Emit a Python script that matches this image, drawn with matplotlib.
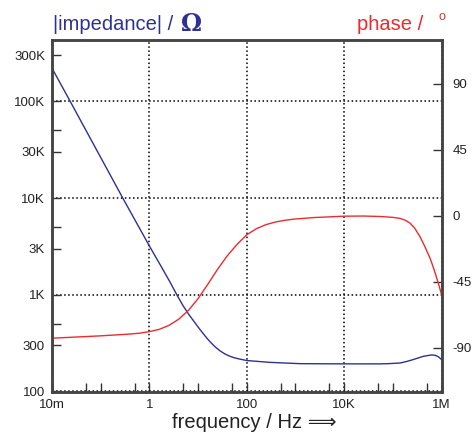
import matplotlib
matplotlib.use("Agg")
import matplotlib.pyplot as plt

plt.rcParams['font.family'] = ['Liberation Sans', 'DejaVu Sans']
plt.rcParams['axes.unicode_minus'] = False

# impedance magnitude
imp_freq = [0.01, 0.0236, 0.284, 1.03, 1.66, 2.66, 3.66, 4.8, 6.32, 11.0, 15.1,
            17.6, 22.3, 28.3, 35.8, 45.4, 57.5, 72.8, 100, 301, 1240, 10400,
            54600, 80000, 141000, 190000, 264000, 423000, 629000, 750000,
            860000, 1.0e6]
imp_ohm = [220000, 100000, 10000, 3110, 2050, 1350, 1000, 787, 635, 436, 357,
           327, 290, 263, 244, 231, 222, 216, 209, 200, 194, 193, 193, 194,
           197, 204, 214, 231, 239, 236, 229, 214]

# phase
ph_freq = [0.01, 0.0316, 0.1, 0.316, 0.631, 1, 1.585, 2.512, 3.981, 6.31, 10,
           15.85, 25.12, 39.81, 63.1, 100, 158.5, 251.2, 398.1, 631, 1000,
           2512, 10000, 25100, 54600, 100000, 141000, 178000, 225000, 282000,
           362000, 447000, 581000, 708000, 797000, 891000, 1.0e6]
ph_deg = [-83.6, -82.8, -82.0, -81.0, -80.2, -79.1, -77.6, -74.9, -70.7, -64.7,
          -56.6, -46.8, -36.6, -27.3, -19.6, -13.0, -8.8, -6.0, -4.2, -3.0,
          -2.2, -1.2, -0.3, -0.2, -0.5, -1.1, -1.8, -3.0, -5.0, -8.5, -14.3,
          -20.5, -28.9, -37.0, -42.5, -47.8, -53.8]

x_major = [0.01, 1, 100, 1e4, 1e6]
x_labels = ['10m', '1', '100', '10K', '1M']
x_minor = [0.05, 0.1, 0.5, 5, 10, 50, 500, 1000, 5000, 5e4, 1e5, 5e5]
y_major = [100, 1000, 1e4, 1e5]
y_major_labels = ['100', '1K', '10K', '100K']
y_minor = [300, 500, 3000, 5000, 3e4, 5e4, 3e5]
y_minor_labels = ['300', '', '3K', '', '30K', '', '300K']
ph_ticks = [-90, -45, 0, 45, 90]
ph_labels = ['-90', '-45', '0', '45', '90']

blue = '#2e3192'
red = '#ee2a2e'
dark = '#333333'

fig = plt.figure(figsize=(4.73, 4.33), dpi=100)
ax = fig.add_axes([52 / 473, 1 - 391.5 / 433, 389.5 / 473, 351.5 / 433])
ax2 = ax.twinx()

ax.plot(imp_freq, imp_ohm, color=blue, lw=1.0)
ax2.plot(ph_freq, ph_deg, color=red, lw=1.0)

ax.set_xscale('log')
ax.set_yscale('log')
ax.set_xlim(0.01, 1e6)
ax.set_ylim(100, 4.3e5)
ax2.set_ylim(-120, 120)

ax.set_xticks(x_major, x_labels)
ax.set_xticks(x_minor, [''] * len(x_minor), minor=True)
ax.set_yticks(y_major, y_major_labels)
ax.set_yticks(y_minor, y_minor_labels, minor=True)
ax2.set_yticks(ph_ticks, ph_labels)
ax2.set_yticks([], minor=True)

ax.grid(which='major', linestyle=':', color='black', lw=1.1)

ax.tick_params(axis='both', which='both', direction='in', length=6.5,
               width=1, color=dark, labelsize=9.5, labelcolor='#222222',
               top=False, right=False)
ax.tick_params(axis='x', which='both', pad=5.5)
ax.tick_params(axis='y', which='both', pad=5)
ax2.tick_params(axis='y', direction='in', length=6.5, width=1, color=dark,
                labelsize=9.5, labelcolor='#222222', pad=8)

for a in (ax, ax2):
    for side in ('left', 'bottom', 'top', 'right'):
        a.spines[side].set_color('#444444')
        a.spines[side].set_linewidth(1.8)

# titles over the two axes
fig.text(53 / 473, 1 - 29.5 / 433, '|impedance| /', color=blue, fontsize=14.5,
         va='baseline', ha='left')
fig.text(181 / 473, 1 - 31 / 433, '\u03a9', color=blue, fontsize=17,
         family='DejaVu Serif', weight='bold', va='baseline', ha='left')
fig.text(356.5 / 473, 1 - 29.5 / 433, 'phase /', color=red, fontsize=14.5,
         va='baseline', ha='left')
fig.text(442 / 473, 1 - 17.5 / 433, 'o', color=red, fontsize=9,
         va='center', ha='center')

fig.text(254.5 / 473, 1 - 428 / 433, 'frequency / Hz \u27f9', color='#222222',
         fontsize=14.5, va='baseline', ha='center')

fig.savefig('out.png', dpi=100)
